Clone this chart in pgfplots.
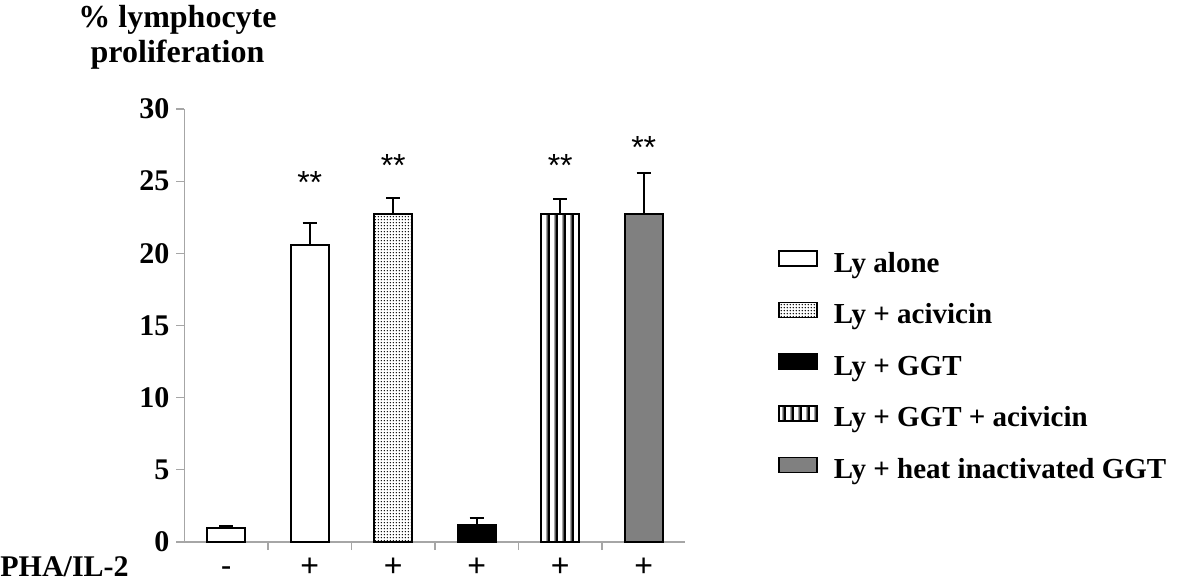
\documentclass[border=0pt]{standalone}
\usepackage{fontspec}
\setmainfont{Liberation Serif}
\setsansfont{Liberation Sans}
\usepackage{pgfplots}
\pgfplotsset{compat=1.18}
\usetikzlibrary{patterns}

% fine dot fill and thick vertical stripes
\pgfdeclarepatternformonly{fine dots}{\pgfqpoint{0pt}{0pt}}{\pgfqpoint{1.6pt}{1.6pt}}{\pgfqpoint{1.6pt}{1.6pt}}%
  {\pgfpathcircle{\pgfqpoint{0.8pt}{0.8pt}}{0.45pt}\pgfusepath{fill}}
\pgfdeclarepatternformonly{thick vlines}{\pgfqpoint{0pt}{0pt}}{\pgfqpoint{3.8pt}{2pt}}{\pgfqpoint{3.8pt}{2pt}}%
  {\pgfsetlinewidth{1.35pt}\pgfpathmoveto{\pgfqpoint{0.825pt}{-0.5pt}}\pgfpathlineto{\pgfqpoint{0.825pt}{2.5pt}}%
   \pgfpathmoveto{\pgfqpoint{4.625pt}{-0.5pt}}\pgfpathlineto{\pgfqpoint{4.625pt}{2.5pt}}%
   \pgfpathmoveto{\pgfqpoint{-2.975pt}{-0.5pt}}\pgfpathlineto{\pgfqpoint{-2.975pt}{2.5pt}}\pgfusepath{stroke}}

\pgfplotsset{
  mybar/.style={ybar, bar width=19pt, bar shift=0pt, draw=black, line width=1pt,
    error bars/y dir=plus, error bars/y explicit,
    error bars/error mark=|,
    error bars/error bar style={line width=1pt, black},
    error bars/error mark options={line width=1pt, mark size=3.5pt, black}},
}
\newcommand{\legbox}[1]{\addlegendimage{legend image code/.code={\draw[black, line width=0.8pt, #1] (0pt,-0.4pt) rectangle (19pt,7.1pt);}}}

\begin{document}
\begin{tikzpicture}
\path[use as bounding box] (-92.25pt,-19pt) rectangle (507.75pt,271pt);
\begin{axis}[
    at={(0,0)}, anchor=south west,
    scale only axis,
    width=250.5pt, height=216.5pt,
    ybar,
    xmin=-0.5, xmax=5.5,
    ymin=0, ymax=30,
    ytick={0,5,...,30},
    xtick={0.5,1.5,...,4.5},
    xticklabels={},
    extra x ticks={0,1,2,3,4,5},
    extra x tick labels={-,+,+,+,+,+},
    extra x tick style={major tick length=0pt,
      xticklabel style={anchor=base, yshift=-17pt, inner sep=0pt, font=\sffamily\fontsize{16}{16}\selectfont}},
    axis lines*=left,
    axis line style={gray!70, line width=0.6pt},
    tick style={gray!70, line width=0.6pt},
    tick align=outside,
    major tick length=4pt,
    yticklabel style={font=\bfseries\fontsize{15}{15}\selectfont},
    /pgf/number format/assume math mode=true,
    clip=false,
    legend cell align=left,
    legend style={draw=none, fill=none, inner sep=0pt,
      at={(1.1846,0.675)}, anchor=north west,
      row sep=11.8pt, column sep=8pt,
      font=\bfseries\fontsize{14.5}{14.5}\selectfont,
      nodes={inner sep=0pt, text height=10pt, text depth=3pt}},
]
\addplot[mybar, fill=white, forget plot] coordinates {(0,1.0) +- (0,0.1)};
\addplot[mybar, fill=white, forget plot] coordinates {(1,20.6) +- (0,1.5)};
\addplot[mybar, pattern=fine dots, pattern color=black, forget plot] coordinates {(2,22.7) +- (0,1.15)};
\addplot[mybar, fill=black, forget plot] coordinates {(3,1.2) +- (0,0.45)};
\addplot[mybar, pattern=thick vlines, pattern color=black, forget plot] coordinates {(4,22.7) +- (0,1.05)};
\addplot[mybar, fill=gray, forget plot] coordinates {(5,22.7) +- (0,2.9)};

\legbox{fill=white}
\addlegendentry{Ly alone}
\legbox{pattern=fine dots}
\addlegendentry{Ly + acivicin}
\legbox{fill=black}
\addlegendentry{Ly + GGT}
\legbox{pattern=thick vlines}
\addlegendentry{Ly + GGT + acivicin}
\legbox{fill=gray}
\addlegendentry{Ly + heat inactivated GGT}

\node[font=\sffamily\fontsize{16}{16}\selectfont] at (axis cs:1,24.9) {**};
\node[font=\sffamily\fontsize{16}{16}\selectfont] at (axis cs:2,26.1) {**};
\node[font=\sffamily\fontsize{16}{16}\selectfont] at (axis cs:4,26.1) {**};
\node[font=\sffamily\fontsize{16}{16}\selectfont] at (axis cs:5,27.3) {**};
\end{axis}
\node[anchor=base, font=\bfseries\fontsize{16}{16}\selectfont] at (-3.5pt,257.5pt) {\% lymphocyte};
\node[anchor=base, font=\bfseries\fontsize{16}{16}\selectfont] at (-3.5pt,240pt) {proliferation};
\node[anchor=base west, inner sep=0pt, font=\bfseries\fontsize{15}{15}\selectfont] at (-92.25pt,-17pt) {PHA/IL-2};
\end{tikzpicture}
\end{document}
